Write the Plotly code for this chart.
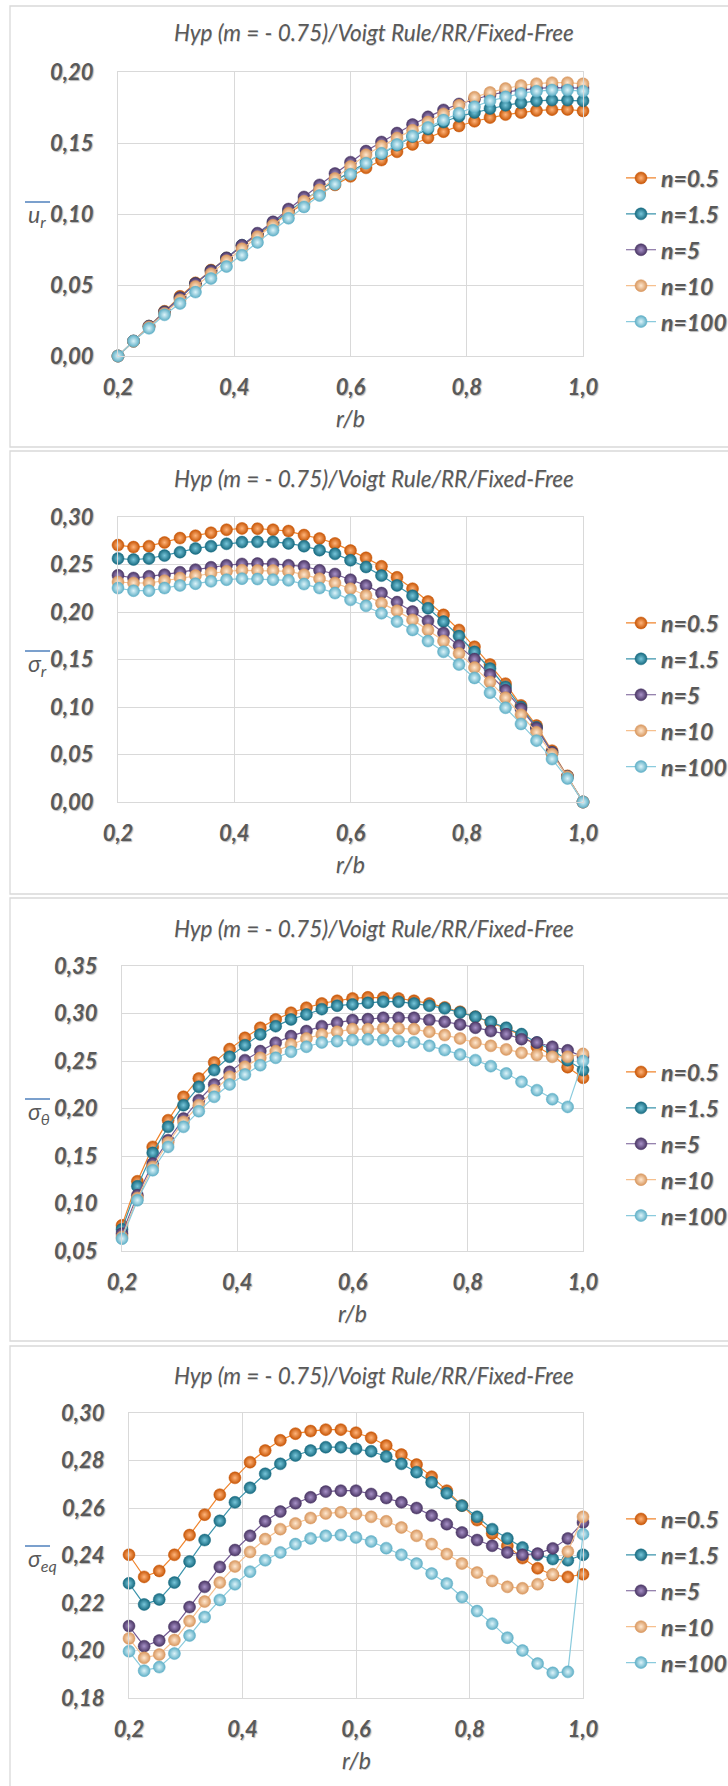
import plotly.graph_objects as go

W, H = 728, 1786


def px(x):
    return x / W


def py(y):
    return 1 - y / H


# ---------------- data ----------------
R_B = [0.2, 0.2267, 0.2533, 0.28, 0.3067, 0.3333, 0.36, 0.3867, 0.4133, 0.44,
       0.4667, 0.4933, 0.52, 0.5467, 0.5733, 0.6, 0.6267, 0.6533, 0.68, 0.7067,
       0.7333, 0.76, 0.7867, 0.8133, 0.84, 0.8667, 0.8933, 0.92, 0.9467, 0.9733, 1.0]

SERIES_NAMES = ["n=0.5", "n=1.5", "n=5", "n=10", "n=100"]
X_TICKS = [0.2, 0.4, 0.6, 0.8, 1.0]
TITLE = "Hyp (m = - 0.75)/Voigt Rule/RR/Fixed-Free"
X_TITLE = "r/b"
Y_TITLES = ["u<sub>r</sub>", "σ<sub>r</sub>", "σ<sub>θ</sub>", "σ<sub>eq</sub>"]

# panel 1 : u_r
UR_N05 = [0, 0.0105, 0.021, 0.0315, 0.042, 0.0515, 0.0605, 0.069, 0.0775, 0.0855, 0.093,
          0.1005, 0.1075, 0.114, 0.1205, 0.1265, 0.1325, 0.138, 0.1438, 0.149, 0.1537,
          0.158, 0.162, 0.1653, 0.1679, 0.170, 0.1714, 0.1728, 0.1735, 0.1736, 0.1726]
UR_N15 = [0, 0.0105, 0.021, 0.031, 0.041, 0.051, 0.060, 0.069, 0.078, 0.086, 0.094,
          0.102, 0.1095, 0.117, 0.1235, 0.130, 0.1365, 0.1425, 0.1485, 0.1545, 0.1598,
          0.1648, 0.1688, 0.1715, 0.1743, 0.1766, 0.1783, 0.1797, 0.1802, 0.1802, 0.1797]
UR_N5 = [0, 0.0105, 0.021, 0.031, 0.041, 0.051, 0.060, 0.069, 0.078, 0.0865, 0.0945,
         0.1035, 0.112, 0.1205, 0.1285, 0.1365, 0.1443, 0.1507, 0.157, 0.163, 0.1684,
         0.1733, 0.1775, 0.1808, 0.1838, 0.186, 0.1875, 0.1885, 0.189, 0.189, 0.1887]
UR_N10 = [0, 0.0103, 0.0205, 0.030, 0.0395, 0.049, 0.058, 0.067, 0.0755, 0.084, 0.092,
          0.1005, 0.109, 0.117, 0.125, 0.1334, 0.1417, 0.1478, 0.1535, 0.159, 0.1648,
          0.1705, 0.1765, 0.1822, 0.1856, 0.1884, 0.1905, 0.1918, 0.1925, 0.1925, 0.1917]
UR_N100 = [0, 0.0105, 0.0195, 0.029, 0.037, 0.045, 0.0546, 0.063, 0.071, 0.080, 0.0886,
           0.097, 0.105, 0.113, 0.121, 0.128, 0.1358, 0.1428, 0.149, 0.155, 0.161,
           0.1662, 0.171, 0.1755, 0.1797, 0.1825, 0.1849, 0.1865, 0.1873, 0.1873, 0.1865]

# panel 2 : sigma_r
SR_N05 = [0.2704, 0.2683, 0.2693, 0.2732, 0.2778, 0.2803, 0.2834, 0.2866, 0.288, 0.2877,
          0.2866, 0.2852, 0.281, 0.2774, 0.2722, 0.2647, 0.257, 0.2481, 0.2365, 0.2245,
          0.2111, 0.197, 0.1811, 0.1634, 0.1447, 0.1246, 0.1017, 0.0805, 0.054, 0.0275, 0.0]
SR_N15 = [0.2563, 0.2552, 0.2563, 0.2594, 0.263, 0.2669, 0.2693, 0.2718, 0.2736, 0.2739,
          0.2739, 0.2722, 0.2693, 0.2651, 0.2612, 0.2545, 0.2474, 0.2383, 0.228, 0.2171,
          0.204, 0.1899, 0.1747, 0.1581, 0.1405, 0.1211, 0.0999, 0.0787, 0.0522, 0.0268, 0.0]
SR_N5 = [0.2386, 0.2358, 0.2376, 0.2393, 0.2418, 0.2446, 0.2471, 0.2492, 0.2506, 0.251,
         0.2506, 0.2492, 0.2481, 0.2439, 0.24, 0.234, 0.228, 0.2199, 0.2104, 0.2005,
         0.1906, 0.1779, 0.1645, 0.1504, 0.1341, 0.1175, 0.0981, 0.0777, 0.0522, 0.0268, 0.0]
SR_N10 = [0.2316, 0.2305, 0.2305, 0.233, 0.2358, 0.2383, 0.2411, 0.2429, 0.2439, 0.2436,
          0.2436, 0.2429, 0.2393, 0.2351, 0.2305, 0.2245, 0.2174, 0.2093, 0.2012, 0.1917,
          0.1811, 0.1694, 0.1564, 0.1415, 0.1264, 0.1098, 0.0918, 0.0734, 0.0505, 0.0265, 0.0]
SR_N100 = [0.2252, 0.2224, 0.2224, 0.2252, 0.228, 0.2298, 0.2323, 0.234, 0.2351, 0.2347,
           0.234, 0.2333, 0.2294, 0.2252, 0.2199, 0.2128, 0.2065, 0.1987, 0.1899, 0.1811,
           0.1694, 0.1581, 0.1447, 0.1306, 0.1151, 0.0992, 0.0822, 0.0646, 0.0452, 0.0247, 0.0]

# panel 3 : sigma_theta
ST_N05 = [0.077, 0.1234, 0.1596, 0.1877, 0.2123, 0.2316, 0.2485, 0.2625, 0.2744, 0.285,
          0.2938, 0.3008, 0.3061, 0.3106, 0.3134, 0.3159, 0.317, 0.3166, 0.3159, 0.3134,
          0.3106, 0.3064, 0.3018, 0.2966, 0.2906, 0.2843, 0.2773, 0.265, 0.256, 0.2435, 0.2323]
ST_N15 = [0.0728, 0.1181, 0.1533, 0.1807, 0.2035, 0.2228, 0.2404, 0.2544, 0.2667, 0.278,
          0.2867, 0.2938, 0.299, 0.3046, 0.3082, 0.3096, 0.3113, 0.3124, 0.3124, 0.3106,
          0.3082, 0.3054, 0.3011, 0.2966, 0.2913, 0.285, 0.2783, 0.2695, 0.2615, 0.2509, 0.2404]
ST_N5 = [0.0683, 0.1087, 0.142, 0.1666, 0.1894, 0.2088, 0.2253, 0.2386, 0.2509, 0.2604,
         0.2692, 0.2762, 0.2815, 0.2867, 0.2903, 0.2931, 0.2941, 0.2955, 0.2955, 0.2955,
         0.2931, 0.2913, 0.2885, 0.285, 0.2815, 0.2783, 0.273, 0.2695, 0.265, 0.2612, 0.2545]
ST_N10 = [0.0648, 0.1058, 0.1385, 0.1642, 0.1859, 0.2035, 0.2193, 0.2334, 0.2439, 0.2534,
          0.2604, 0.2674, 0.2737, 0.278, 0.2808, 0.2836, 0.2836, 0.2843, 0.2843, 0.2836,
          0.2808, 0.2773, 0.2737, 0.2692, 0.266, 0.2622, 0.2586, 0.2562, 0.2544, 0.2544, 0.2575]
ST_N100 = [0.063, 0.1034, 0.135, 0.1596, 0.1807, 0.1972, 0.2123, 0.2253, 0.2358, 0.2456,
           0.2534, 0.2597, 0.265, 0.2695, 0.2709, 0.272, 0.2728, 0.272, 0.2709, 0.2695,
           0.266, 0.2615, 0.2569, 0.2509, 0.2446, 0.2369, 0.2281, 0.2193, 0.2098, 0.2017, 0.2499]

# panel 4 : sigma_eq
SE_N05 = [0.2403, 0.231, 0.2335, 0.2403, 0.2486, 0.2572, 0.2656, 0.2727, 0.2793, 0.2842,
          0.2885, 0.2913, 0.2924, 0.293, 0.293, 0.2917, 0.2896, 0.2863, 0.2825, 0.2783,
          0.2732, 0.2673, 0.261, 0.2549, 0.2493, 0.2441, 0.2389, 0.2346, 0.2318, 0.231, 0.2321]
SE_N15 = [0.2283, 0.2194, 0.2215, 0.2286, 0.2375, 0.2465, 0.2546, 0.2624, 0.2685, 0.2744,
          0.2786, 0.2821, 0.2842, 0.2856, 0.2856, 0.2849, 0.2839, 0.2817, 0.2786, 0.2751,
          0.2708, 0.2662, 0.261, 0.2563, 0.2511, 0.2472, 0.2434, 0.2403, 0.2385, 0.238, 0.2403]
SE_N5 = [0.2103, 0.2018, 0.2042, 0.21, 0.2183, 0.2268, 0.2352, 0.2423, 0.2483, 0.2544,
         0.2585, 0.262, 0.2645, 0.2669, 0.2673, 0.2673, 0.2659, 0.2642, 0.2624, 0.26,
         0.2568, 0.2532, 0.2497, 0.2465, 0.2441, 0.2413, 0.2403, 0.2408, 0.243, 0.2472, 0.2539]
SE_N10 = [0.2051, 0.1969, 0.1983, 0.2044, 0.2124, 0.2206, 0.2286, 0.2354, 0.2415, 0.2469,
          0.2511, 0.2535, 0.2558, 0.2577, 0.2582, 0.2575, 0.2563, 0.2544, 0.2518, 0.2483,
          0.2448, 0.2406, 0.2366, 0.2328, 0.2293, 0.2268, 0.2262, 0.2279, 0.2321, 0.2417, 0.2563]
SE_N100 = [0.1997, 0.1915, 0.193, 0.1987, 0.2063, 0.2141, 0.2213, 0.2279, 0.2332, 0.238,
           0.2413, 0.2448, 0.2472, 0.2483, 0.2486, 0.2476, 0.2459, 0.2431, 0.2403, 0.2366,
           0.2324, 0.2282, 0.2225, 0.2166, 0.2113, 0.2054, 0.2, 0.1945, 0.1906, 0.191, 0.249]

PANEL_DATA = [
    [UR_N05, UR_N15, UR_N5, UR_N10, UR_N100],
    [SR_N05, SR_N15, SR_N5, SR_N10, SR_N100],
    [ST_N05, ST_N15, ST_N5, ST_N10, ST_N100],
    [SE_N05, SE_N15, SE_N5, SE_N10, SE_N100],
]

# ---------------- styles ----------------
LINE_COLORS = ["#F0842C", "#3A93AB", "#735A93", "#F6C08E", "#8ACBDD"]
MARKER_EDGE = ["#C85606", "#176A80", "#4A3665", "#D8975E", "#5FAFC6"]
MARKER_CENTER = ["#FFB47A", "#78C6DA", "#A892C8", "#FFE8D0", "#DDF4FA"]
TEXT_GRAY = "#595959"
GRID = "#D9D9D9"
FONT = "Lato, 'Open Sans', sans-serif"
SHADOW = "1px 1px 1px rgba(0,0,0,0.28)"

# panel geometry in pixels: plot-area left, right, top, bottom
PANELS = [
    dict(l=118, r=583, t=72, b=356, yr=[0, 0.20], dt=0.05, top=6, bot=447,
         title_y=33, ylab_y=213, leg_y=250),
    dict(l=118, r=583, t=517, b=802, yr=[0, 0.30], dt=0.05, top=451, bot=894,
         title_y=479, ylab_y=662, leg_y=695),
    dict(l=122, r=583, t=966, b=1251, yr=[0.05, 0.35], dt=0.05, top=898, bot=1341,
         title_y=928, ylab_y=1110, leg_y=1144),
    dict(l=129, r=583, t=1413, b=1698, yr=[0.18, 0.30], dt=0.02, top=1346, bot=1800,
         title_y=1375, ylab_y=1557, leg_y=1591),
]

fig = go.Figure()
shapes = []
annotations = []
layout_extra = {}

for p, (geo, series) in enumerate(zip(PANELS, PANEL_DATA)):
    sfx = "" if p == 0 else str(p + 1)
    leg = "legend" + sfx
    for i, (name, vals) in enumerate(zip(SERIES_NAMES, series)):
        fig.add_trace(go.Scatter(
            x=R_B, y=vals, name=name, mode="lines+markers",
            xaxis="x" + sfx, yaxis="y" + sfx, legend=leg,
            legendgroup=f"p{p}_{i}",
            cliponaxis=False,
            line=dict(color=LINE_COLORS[i], width=1.2),
            marker=dict(size=12, color=MARKER_EDGE[i],
                        gradient=dict(type="radial", color=MARKER_CENTER[i]),
                        line=dict(width=0.5, color=MARKER_EDGE[i])),
        ))

    tickfont = dict(family=FONT, size=22, color=TEXT_GRAY, weight="bold",
                    style="italic", shadow=SHADOW)
    layout_extra["xaxis" + sfx] = dict(
        domain=[px(geo["l"]), px(geo["r"])], anchor="y" + sfx,
        range=[0.2, 1.0], tickvals=X_TICKS, tickformat=".1f",
        showgrid=True, gridcolor=GRID, gridwidth=1.3,
        showline=True, linecolor=GRID, linewidth=1.3, mirror=True,
        zeroline=False, ticks="", ticklabelstandoff=11,
        tickfont=tickfont, automargin=False,
    )
    layout_extra["yaxis" + sfx] = dict(
        domain=[py(geo["b"]), py(geo["t"])], anchor="x" + sfx,
        range=geo["yr"], dtick=geo["dt"], tick0=geo["yr"][0], tickformat=".2f",
        showgrid=True, gridcolor=GRID, gridwidth=1.3,
        showline=True, linecolor=GRID, linewidth=1.3, mirror=True,
        zeroline=False, ticks="", ticklabelstandoff=19,
        tickfont=tickfont, automargin=False,
    )
    layout_extra[leg] = dict(
        x=px(621), xanchor="left", y=py(geo["leg_y"]), yanchor="middle",
        bgcolor="rgba(0,0,0,0)", borderwidth=0, tracegroupgap=3,
        itemsizing="trace",
        font=dict(family=FONT, size=23, color=TEXT_GRAY, weight="bold",
                  style="italic", shadow=SHADOW),
    )

    # panel frame
    shapes.append(dict(type="rect", xref="paper", yref="paper",
                       x0=px(10), x1=px(740), y0=py(geo["bot"]), y1=py(geo["top"]),
                       line=dict(color=GRID, width=1.3), fillcolor="rgba(0,0,0,0)",
                       layer="below"))
    # overline of y title
    oy = geo["ylab_y"] - 11
    shapes.append(dict(type="line", xref="paper", yref="paper",
                       x0=px(25), x1=px(50), y0=py(oy), y1=py(oy),
                       line=dict(color="#4F81BD", width=1.5)))

    annotations.append(dict(
        text=TITLE, xref="paper", yref="paper", x=px(374), y=py(geo["title_y"]),
        xanchor="center", yanchor="middle", showarrow=False,
        font=dict(family=FONT, size=22.5, color=TEXT_GRAY, style="italic",
                  shadow="0.5px 0.5px 0.5px rgba(0,0,0,0.2)")))
    annotations.append(dict(
        text=X_TITLE, xref="paper", yref="paper",
        x=px((geo["l"] + geo["r"]) / 2), y=py(geo["b"] + 62),
        xanchor="center", yanchor="middle", showarrow=False,
        font=dict(family=FONT, size=23, color=TEXT_GRAY, style="italic",
                  shadow="0.5px 0.5px 0.5px rgba(0,0,0,0.2)")))
    annotations.append(dict(
        text=Y_TITLES[p], xref="paper", yref="paper", x=px(26), y=py(geo["ylab_y"] + 2),
        xanchor="left", yanchor="middle", showarrow=False,
        font=dict(family=FONT, size=23, color=TEXT_GRAY, style="italic")))

fig.update_layout(
    width=W, height=H,
    margin=dict(l=0, r=0, t=0, b=0, autoexpand=False),
    paper_bgcolor="white", plot_bgcolor="white",
    separators=", ",
    shapes=shapes, annotations=annotations,
    **layout_extra,
)

fig.write_html("out.html")
